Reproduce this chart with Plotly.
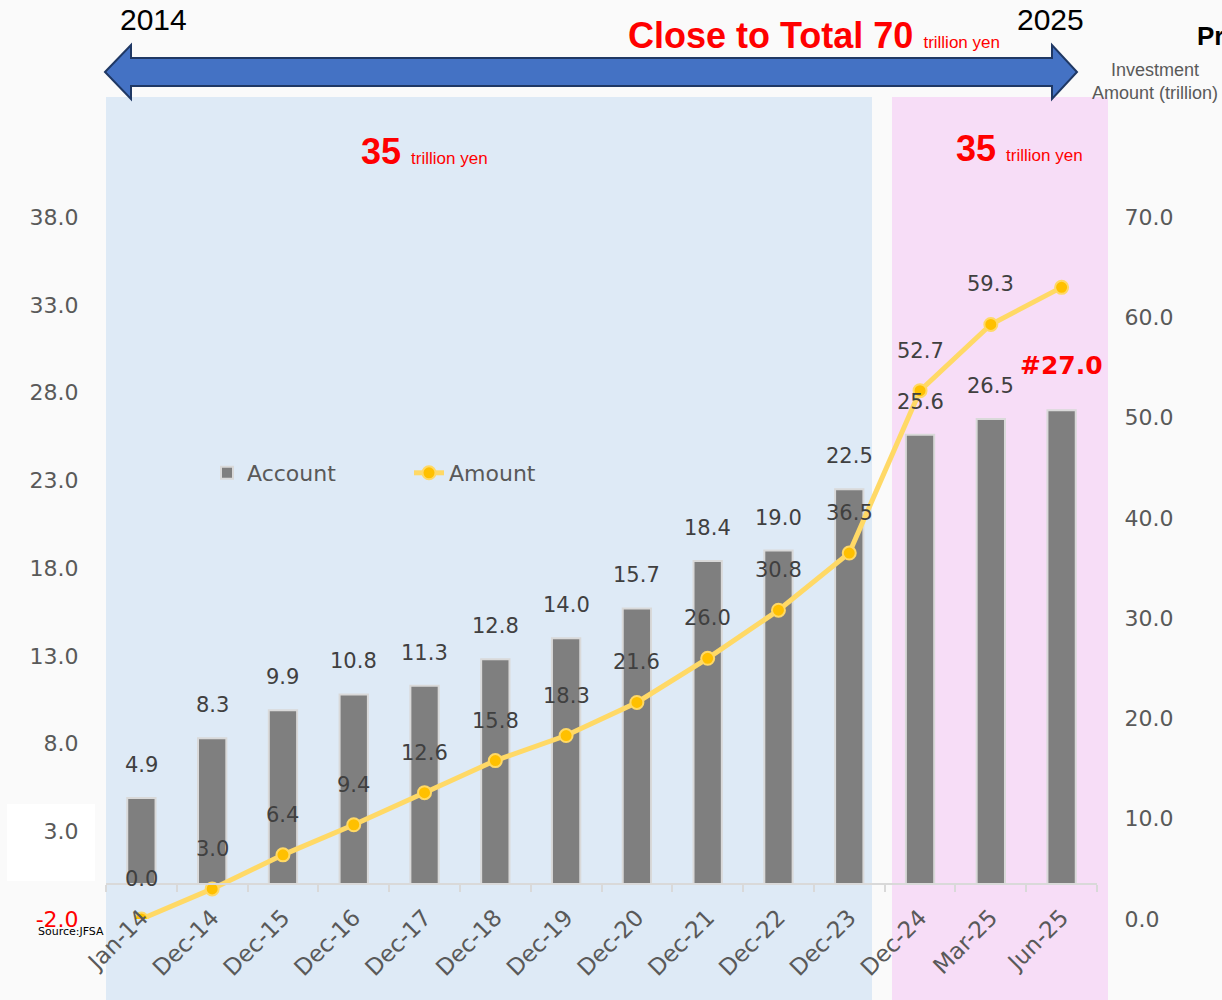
import plotly.graph_objects as go

categories = ["Jan-14", "Dec-14", "Dec-15", "Dec-16", "Dec-17", "Dec-18", "Dec-19",
              "Dec-20", "Dec-21", "Dec-22", "Dec-23", "Dec-24", "Mar-25", "Jun-25"]
accounts = [4.9, 8.3, 9.9, 10.8, 11.3, 12.8, 14.0, 15.7, 18.4, 19.0, 22.5, 25.6, 26.5, 27.0]
amounts = [0.0, 3.0, 6.4, 9.4, 12.6, 15.8, 18.3, 21.6, 26.0, 30.8, 36.5, 52.7, 59.3, 63.0]
series_names = ["Account", "Amount"]
left_ticks = [-2, 3, 8, 13, 18, 23, 28, 33, 38]
right_ticks = [0, 10, 20, 30, 40, 50, 60, 70]

W, H = 1222, 1000
PL, PR, PT, PB = 106, 1097, 147, 919


def fx(px):
    return (px - PL) / (PR - PL)


def fy(py):
    return (PB - py) / (PB - PT)


GRAY_TXT = "#595959"
LABEL_TXT = "#404040"
FONT = "DejaVu Sans, Verdana, sans-serif"
ARIAL = "Liberation Sans, Arial, sans-serif"

fig = go.Figure()
fig.add_trace(go.Bar(
    x=categories, y=accounts, name=series_names[0], width=0.4,
    marker=dict(color="#7F7F7F", line=dict(color="#D9D9D9", width=2)),
    yaxis="y", xaxis="x",
))
fig.add_trace(go.Scatter(
    x=categories, y=amounts, name=series_names[1], mode="lines+markers",
    line=dict(color="#FFD966", width=5),
    marker=dict(color="#FFC000", size=13, line=dict(color="#FFD966", width=2)),
    yaxis="y2", xaxis="x",
))

shapes = []
# shaded periods
shapes.append(dict(type="rect", xref="paper", yref="paper", x0=fx(106), x1=fx(872),
                   y0=fy(1000), y1=fy(97), fillcolor="#DEEAF6", line=dict(width=0), layer="below"))
shapes.append(dict(type="rect", xref="paper", yref="paper", x0=fx(892), x1=fx(1108),
                   y0=fy(1000), y1=fy(97), fillcolor="#F7DDF7", line=dict(width=0), layer="below"))
# white box behind left tick label
shapes.append(dict(type="rect", xref="paper", yref="paper", x0=fx(7), x1=fx(95),
                   y0=fy(881), y1=fy(804), fillcolor="#FFFFFF", line=dict(width=0), layer="below"))
# double arrow
pts = [(105, 72), (131, 45), (131, 58), (1052, 58), (1052, 45), (1077, 72),
       (1052, 99), (1052, 86), (131, 86), (131, 99)]
path = "M " + " L ".join(f"{fx(a):.5f},{fy(b):.5f}" for a, b in pts) + " Z"
shapes.append(dict(type="path", xref="paper", yref="paper", path=path,
                   fillcolor="#4472C4", line=dict(color="#1F3864", width=2), layer="above"))

ann = []
for c, v in zip(categories, accounts):
    if c == categories[-1]:
        ann.append(dict(x=c, y=v, xref="x", yref="y", yshift=45, showarrow=False,
                        xanchor="center", yanchor="middle",
                        text=f"<b>#{v:.1f}</b>", font=dict(family=FONT, size=25, color="#FF0000")))
    else:
        ann.append(dict(x=c, y=v, xref="x", yref="y", yshift=33, showarrow=False,
                        xanchor="center", yanchor="middle",
                        text=f"{v:.1f}", font=dict(family=FONT, size=21, color=LABEL_TXT)))
for c, v in zip(categories[:-1], amounts[:-1]):
    ann.append(dict(x=c, y=v, xref="x", yref="y2", yshift=40, showarrow=False,
                    xanchor="center", yanchor="middle",
                    text=f"{v:.1f}", font=dict(family=FONT, size=21, color=LABEL_TXT)))


def pa(px, py, text, size, color, family=ARIAL, xanchor="center"):
    return dict(x=fx(px), y=fy(py), xref="paper", yref="paper", showarrow=False,
                xanchor=xanchor, yanchor="middle", text=text,
                font=dict(family=family, size=size, color=color))


ann += [
    pa(153, 19, "2014", 30, "#000000"),
    pa(1050, 19, "2025", 30, "#000000"),
    pa(1002, 36, "<b>Close to Total 70</b> <span style='font-size:17px'>trillion yen</span>",
       36, "#FF0000", xanchor="right"),
    pa(1195, 36, "<b>Progress</b>", 26, "#000000", xanchor="left"),
    pa(1155, 82, "Investment<br>Amount (trillion)", 18, GRAY_TXT),
    pa(424, 151, "<b>35</b> <span style='font-size:17px'>trillion yen</span>", 36, "#FF0000"),
    pa(1019, 148, "<b>35</b> <span style='font-size:17px'>trillion yen</span>", 36, "#FF0000"),
    pa(36, 931, "Source:JFSA", 11, "#000000", family=FONT, xanchor="left"),
]

left_text = [f"{t:.1f}" for t in left_ticks]
left_text[0] = "<span style='color:#FF0000'>" + left_text[0] + "</span>"

fig.update_layout(
    width=W, height=H,
    margin=dict(l=PL, r=W - PR, t=PT, b=H - PB, autoexpand=False),
    paper_bgcolor="#FAFAFA", plot_bgcolor="rgba(0,0,0,0)",
    shapes=shapes, annotations=ann,
    showlegend=True,
    legend=dict(orientation="h", x=fx(207), y=fy(473), xanchor="left", yanchor="middle",
                entrywidth=157, entrywidthmode="pixels", bgcolor="rgba(0,0,0,0)",
                font=dict(family=FONT, size=22, color=GRAY_TXT)),
    xaxis=dict(type="category", range=[-0.5, len(categories) - 0.5],
               anchor="free", position=fy(884),
               showline=True, linecolor="#D9D9D9", linewidth=2,
               ticks="outside", tickson="boundaries", ticklen=7, tickcolor="#D9D9D9", tickwidth=2,
               ticklabelstandoff=10,
               tickangle=-45, tickfont=dict(family=FONT, size=23, color=GRAY_TXT),
               showgrid=False, zeroline=False, automargin=False),
    yaxis=dict(range=[-2, 42], tickvals=left_ticks, ticktext=left_text,
               showgrid=False, zeroline=False, showline=False,
               ticks="outside", ticklen=22, tickcolor="rgba(0,0,0,0)",
               tickfont=dict(family=FONT, size=22, color=GRAY_TXT), automargin=False),
    yaxis2=dict(range=[0, 77], tickvals=right_ticks, ticktext=[f"{t:.1f}" for t in right_ticks],
                overlaying="y", side="right", anchor="x",
                showgrid=False, zeroline=False, showline=False,
                ticks="outside", ticklen=22, tickcolor="rgba(0,0,0,0)",
                tickfont=dict(family=FONT, size=22, color=GRAY_TXT), automargin=False),
)

fig.write_html("out.html", config={"displayModeBar": False},
               post_script="document.body.style.margin='0';")
